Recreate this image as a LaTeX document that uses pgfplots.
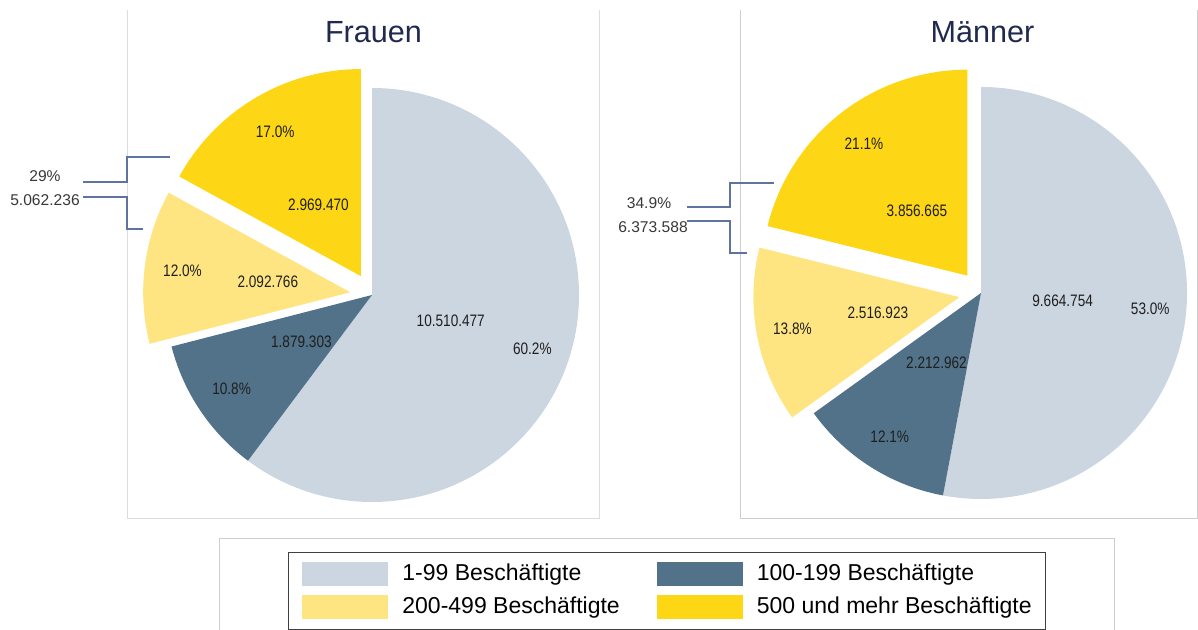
\documentclass[border=0pt]{standalone}
\usepackage{fontspec}
\setmainfont{Liberation Sans}
\newfontfamily\narrowfont[FakeStretch=0.82]{Liberation Sans}
\usepackage{pgfplots}
\pgfplotsset{compat=1.18}
\usetikzlibrary{calc}
\definecolor{klein}{RGB}{204,214,225}
\definecolor{mittel}{RGB}{81,114,137}
\definecolor{gross}{RGB}{254,229,130}
\definecolor{sehrgross}{RGB}{253,214,22}
\definecolor{titel}{RGB}{31,42,78}
\definecolor{klammer}{RGB}{96,114,160}
\definecolor{rahmen}{RGB}{205,205,205}

% one pie slice: centre x, centre y, start angle, end angle, explode, radius, colour
\newcommand\pieslice[7]{%
  \fill[#7] ($(axis cs:#1,#2)+({(#3+#4)/2}:#5)$) -- +(#3:#6)
    arc[start angle=#3, end angle=#4, radius=#6] -- cycle;}
% label on a slice: centre x, centre y, mid angle, distance, text
\newcommand\slicelabel[5]{%
  \node[font=\narrowfont\fontsize{8.3}{9}\selectfont, text=black!88, inner sep=0pt]
    at ($(axis cs:#1,#2)+(#3:#4)$) {#5};}

% Frauen: 1-99, 100-199, 200-499, 500+
\def\FvA{10510477}\def\FvB{1879303}\def\FvC{2092766}\def\FvD{2969470}
% Maenner
\def\MvA{9664754}\def\MvB{2212962}\def\MvC{2516923}\def\MvD{3856665}

\edef\FS{\fpeval{\FvA+\FvB+\FvC+\FvD}}
\edef\Fa{\fpeval{round(90-360*\FvA/\FS,3)}}
\edef\Fb{\fpeval{round(\Fa-360*\FvB/\FS,3)}}
\edef\Fc{\fpeval{round(\Fb-360*\FvC/\FS,3)}}
\edef\FmA{\fpeval{(90+\Fa)/2}}\edef\FmB{\fpeval{(\Fa+\Fb)/2}}
\edef\FmC{\fpeval{(\Fb+\Fc)/2}}\edef\FmD{\fpeval{(\Fc-270)/2}}

\edef\MS{\fpeval{\MvA+\MvB+\MvC+\MvD}}
\edef\Ma{\fpeval{round(90-360*\MvA/\MS,3)}}
\edef\Mb{\fpeval{round(\Ma-360*\MvB/\MS,3)}}
\edef\Mc{\fpeval{round(\Mb-360*\MvC/\MS,3)}}
\edef\MmA{\fpeval{(90+\Ma)/2}}\edef\MmB{\fpeval{(\Ma+\Mb)/2}}
\edef\MmC{\fpeval{(\Mb+\Mc)/2}}\edef\MmD{\fpeval{(\Mc-270)/2}}

\begin{document}
\begin{tikzpicture}
\path[use as bounding box] (0,0) rectangle (599pt,315pt);
\begin{axis}[
  at={(0,0)}, anchor=south west,
  x=0.5pt, y=0.5pt, xmin=0, xmax=1198, ymin=0, ymax=630,
  hide axis, clip=false,
  legend columns=2,
  legend image code/.code={\path[#1] (0pt,-6pt) rectangle (43pt,6pt);},
  legend cell align=left,
  legend style={at={(0.5568,0.0619)}, anchor=center, draw=black!75, line width=0.6pt,
    font=\fontsize{11.5}{13}\selectfont, inner xsep=7pt, inner ysep=5pt,
    row sep=4.5pt, column sep=7pt,
    nodes={inner sep=0pt, text depth=0.2em},
    /tikz/every even column/.append style={column sep=18.5pt}},
]
% panel frames
\draw[rahmen!70, line width=0.5pt] (axis cs:127,620) -- (axis cs:127,111) -- (axis cs:599,111) -- (axis cs:599,620);
\draw[rahmen, line width=0.5pt] (axis cs:740,620) -- (axis cs:740,111) -- (axis cs:1197,111) -- (axis cs:1197,620);
\draw[rahmen, line width=0.5pt] (axis cs:219,-2) -- (axis cs:219,91) -- (axis cs:1114,91) -- (axis cs:1114,-2);

% titles
\node[anchor=base, text=titel, font=\fontsize{15.3}{17}\selectfont] at (axis cs:373.5,587) {Frauen};
\node[anchor=base, text=titel, font=\fontsize{15.3}{17}\selectfont] at (axis cs:982.5,587) {Männer};

% Frauen pie
\pieslice{372}{335}{90}{\Fa}{0pt}{103.5pt}{klein}
\pieslice{372}{335}{\Fa}{\Fb}{0pt}{103.5pt}{mittel}
\pieslice{372}{335}{\Fb}{\Fc}{11pt}{103.5pt}{gross}
\pieslice{372}{335}{\Fc}{-270}{11pt}{103.5pt}{sehrgross}
\slicelabel{372}{335}{\FmA}{41.5pt}{10.510.477}
\slicelabel{372}{335}{\FmA}{84.5pt}{60.2\%}
\slicelabel{372}{335}{\FmB}{42.5pt}{1.879.303}
\slicelabel{372}{335}{\FmB}{84.5pt}{10.8\%}
\slicelabel{372}{335}{\FmC}{52.5pt}{2.092.766}
\slicelabel{372}{335}{\FmC}{95.5pt}{12.0\%}
\slicelabel{372}{335}{\FmD}{52.5pt}{2.969.470}
\slicelabel{372}{335}{\FmD}{95pt}{17.0\%}

% Maenner pie
\pieslice{981}{337}{90}{\Ma}{0pt}{103pt}{klein}
\pieslice{981}{337}{\Ma}{\Mb}{0pt}{103pt}{mittel}
\pieslice{981}{337}{\Mb}{\Mc}{11pt}{103pt}{gross}
\pieslice{981}{337}{\Mc}{-270}{11pt}{103pt}{sehrgross}
\slicelabel{981}{337}{\MmA}{41pt}{9.664.754}
\slicelabel{981}{337}{\MmA}{85pt}{53.0\%}
\slicelabel{981}{337}{\MmB}{41.5pt}{2.212.962}
\slicelabel{981}{337}{\MmB}{85pt}{12.1\%}
\slicelabel{981}{337}{\MmC}{52.5pt}{2.516.923}
\slicelabel{981}{337}{\MmC}{96pt}{13.8\%}
\slicelabel{981}{337}{\MmD}{52pt}{3.856.665}
\slicelabel{981}{337}{\MmD}{95pt}{21.1\%}

% brackets for the two largest-size classes
\draw[klammer, line width=0.75pt] (axis cs:170,473) -- (axis cs:127,473) -- (axis cs:127,448) -- (axis cs:83,448);
\draw[klammer, line width=0.75pt] (axis cs:83,433) -- (axis cs:127,433) -- (axis cs:127,401) -- (axis cs:143,401);
\node[text=black!78, font=\fontsize{7.8}{9}\selectfont, inner sep=0pt] at (axis cs:45,454) {29\%};
\node[text=black!78, font=\fontsize{7.8}{9}\selectfont, inner sep=0pt] at (axis cs:45,430) {5.062.236};
\draw[klammer, line width=0.75pt] (axis cs:774,447) -- (axis cs:730,447) -- (axis cs:730,423) -- (axis cs:687,423);
\draw[klammer, line width=0.75pt] (axis cs:687,409) -- (axis cs:730,409) -- (axis cs:730,377) -- (axis cs:747,377);
\node[text=black!78, font=\fontsize{7.8}{9}\selectfont, inner sep=0pt] at (axis cs:649,427) {34.9\%};
\node[text=black!78, font=\fontsize{7.8}{9}\selectfont, inner sep=0pt] at (axis cs:653,403) {6.373.588};

\addlegendimage{fill=klein, draw=none}
\addlegendentry{1-99 Beschäftigte}
\addlegendimage{fill=mittel, draw=none}
\addlegendentry{100-199 Beschäftigte}
\addlegendimage{fill=gross, draw=none}
\addlegendentry{200-499 Beschäftigte}
\addlegendimage{fill=sehrgross, draw=none}
\addlegendentry{500 und mehr Beschäftigte}
\end{axis}
\end{tikzpicture}
\end{document}
